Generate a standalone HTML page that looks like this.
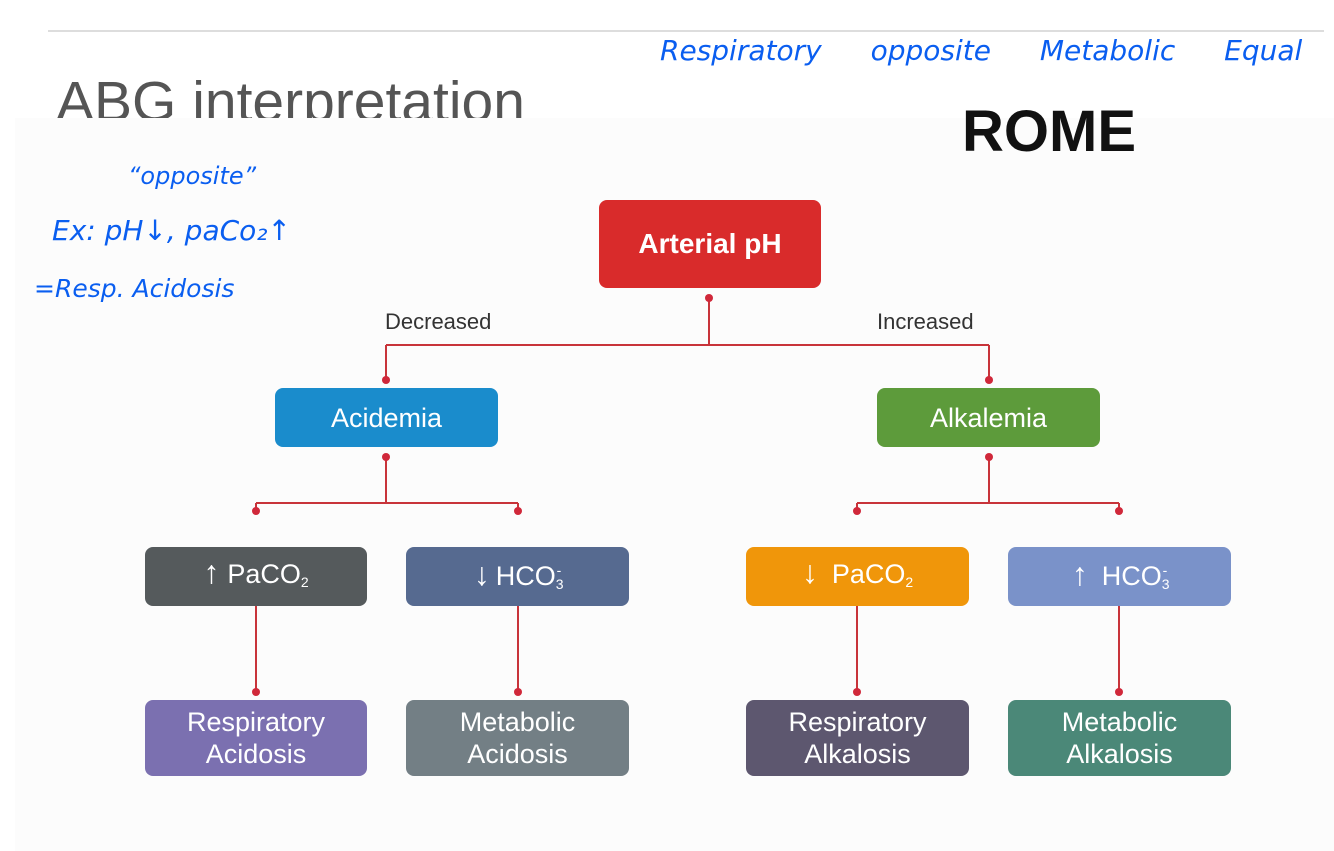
<!DOCTYPE html>
<html><head><style>
body{margin:0;width:1334px;height:851px;background:#fff;position:relative;overflow:hidden;font-family:"Liberation Sans",sans-serif}
.bg{position:absolute;left:15px;top:118px;width:1319px;height:733px;background:#fcfcfc}
.b{position:absolute;border-radius:8px;color:#fff;display:flex;align-items:center;justify-content:center;text-align:center;font-size:27px;line-height:32px}
.h{position:absolute;color:#0a5ef0;font-style:italic;white-space:nowrap;font-family:"DejaVu Sans",sans-serif;font-weight:300}
.lbl{position:absolute;font-size:22px;color:#333}
sub{font-size:14px;vertical-align:-4px}
sup{font-size:14px;vertical-align:10px}
</style></head><body>
<div class="bg"></div>
<div style="position:absolute;left:48px;top:30px;width:1276px;height:2px;background:#ddd"></div>
<div style="position:absolute;left:56px;top:66px;height:52px;overflow:hidden;font-size:57px;line-height:72px;color:#555">ABG interpretation</div>
<div style="position:absolute;left:962px;top:98px;font-size:58px;font-weight:bold;color:#111">ROME</div>
<div class="h" style="left:660px;top:34px;font-size:28px;word-spacing:40px">Respiratory opposite Metabolic Equal</div>
<div class="h" style="left:128px;top:162px;font-size:24px">“opposite”</div>
<div class="h" style="left:52px;top:214px;font-size:28px">Ex: pH↓, paCo₂↑</div>
<div class="h" style="left:34px;top:274px;font-size:25px">=Resp. Acidosis</div>
<svg style="position:absolute;left:0;top:0" width="1334" height="851">
<g stroke="#c8343a" stroke-width="2" fill="none">
<path d="M709 298V345M386 345H989M386 345V380M989 345V380"/>
<path d="M386 457V503M256 503H518M256 503V511M518 503V511"/>
<path d="M989 457V503M857 503H1119M857 503V511M1119 503V511"/>
<path d="M256 606V692M518 606V692M857 606V692M1119 606V692"/>
</g>
<g fill="#d0283a">
<circle cx="709" cy="298" r="4"/><circle cx="386" cy="380" r="4"/><circle cx="989" cy="380" r="4"/>
<circle cx="386" cy="457" r="4"/><circle cx="989" cy="457" r="4"/>
<circle cx="256" cy="511" r="4"/><circle cx="518" cy="511" r="4"/><circle cx="857" cy="511" r="4"/><circle cx="1119" cy="511" r="4"/>
<circle cx="256" cy="692" r="4"/><circle cx="518" cy="692" r="4"/><circle cx="857" cy="692" r="4"/><circle cx="1119" cy="692" r="4"/>
</g></svg>
<div class="lbl" style="left:385px;top:309px">Decreased</div>
<div class="lbl" style="left:877px;top:309px">Increased</div>
<div class="b" style="left:599px;top:200px;width:222px;height:88px;background:#d92b2b;font-weight:bold;font-size:28px">Arterial pH</div>
<div class="b" style="left:275px;top:388px;width:223px;height:59px;background:#1a8ccc">Acidemia</div>
<div class="b" style="left:877px;top:388px;width:223px;height:59px;background:#5d9b3b">Alkalemia</div>
<div class="b" style="left:145px;top:547px;width:222px;height:59px;background:#555a5c"><span><b style="font-size:32px;margin-right:8px">↑</b>PaCO<sub>2</sub></span></div>
<div class="b" style="left:406px;top:547px;width:223px;height:59px;background:#566a90"><span><b style="font-size:32px;margin-right:6px">↓</b>HCO<sub>3</sub><sup style="margin-left:-7px">-</sup></span></div>
<div class="b" style="left:746px;top:547px;width:223px;height:59px;background:#f0960a"><span><b style="font-size:32px;margin-right:14px">↓</b>PaCO<sub>2</sub></span></div>
<div class="b" style="left:1008px;top:547px;width:223px;height:59px;background:#7a92c9"><span><b style="font-size:32px;margin-right:14px">↑</b>HCO<sub>3</sub><sup style="margin-left:-7px">-</sup></span></div>
<div class="b" style="left:145px;top:700px;width:222px;height:76px;background:#7b70b0">Respiratory<br>Acidosis</div>
<div class="b" style="left:406px;top:700px;width:223px;height:76px;background:#737f85">Metabolic<br>Acidosis</div>
<div class="b" style="left:746px;top:700px;width:223px;height:76px;background:#5d576f">Respiratory<br>Alkalosis</div>
<div class="b" style="left:1008px;top:700px;width:223px;height:76px;background:#4b8878">Metabolic<br>Alkalosis</div>
</body></html>
